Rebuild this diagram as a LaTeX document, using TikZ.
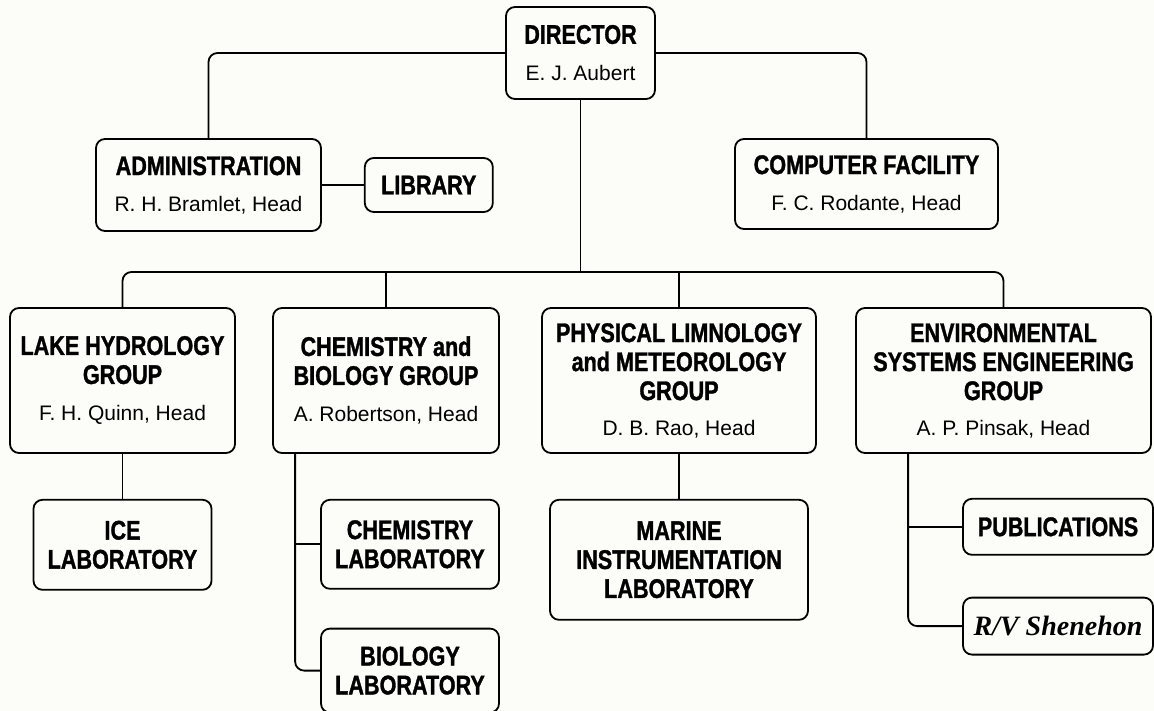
\documentclass[tikz,border=0pt]{standalone}
\usepackage{fontspec}
\setmainfont{Liberation Sans}
\newfontfamily\condfont[FakeStretch=0.8, BoldFeatures={FakeBold=1.2}]{Liberation Sans}
\newfontfamily\shipfont{Liberation Serif}
\usetikzlibrary{positioning}

\definecolor{paper}{RGB}{252,252,248}
\newcommand{\ttl}{\condfont\bfseries\fontsize{27}{29}\selectfont}
\newcommand{\hd}{\normalfont\fontsize{21}{24}\selectfont}

\begin{document}
\begin{tikzpicture}[
    x=1pt, y=-1pt,
    font=\ttl,
    box/.style={rectangle, draw=black, line width=1.8pt, rounded corners=9pt, align=center, inner sep=0pt},
    link/.style={line width=1.8pt, rounded corners=9pt}
]
\fill[paper] (0,0) rectangle (1154,711);
\useasboundingbox (0,0) rectangle (1154,711);

% Top: director and staff units
\node[box, minimum width=149pt, minimum height=92pt] (dir) at (580.5,53) {DIRECTOR\\[8pt]{\hd E.~J. Aubert}};
\node[box, minimum width=225pt, minimum height=92pt] (admin) at (208.5,185) {ADMINISTRATION\\[7pt]{\hd R.~H. Bramlet, Head}};
\node[box, minimum width=128pt, minimum height=54pt, right=42pt of admin] (lib) {LIBRARY};
\node[box, minimum width=263pt, minimum height=90pt] (comp) at (866.5,184) {COMPUTER FACILITY\\[7pt]{\hd F.~C. Rodante, Head}};

% Middle: research groups
\node[box, minimum width=225pt, minimum height=145pt] (lake) at (122.5,380.5) {LAKE HYDROLOGY\\GROUP\\[8pt]{\hd F.~H. Quinn, Head}};
\node[box, minimum width=226pt, minimum height=145pt] (chemgrp) at (386,380.5) {CHEMISTRY and\\BIOLOGY GROUP\\[8pt]{\hd A. Robertson, Head}};
\node[box, minimum width=274pt, minimum height=145pt] (phys) at (679,380.5) {PHYSICAL LIMNOLOGY\\and METEOROLOGY\\GROUP\\[6pt]{\hd D.~B. Rao, Head}};
\node[box, minimum width=295pt, minimum height=145pt] (env) at (1003.5,380.5) {ENVIRONMENTAL\\SYSTEMS ENGINEERING\\GROUP\\[6pt]{\hd A.~P. Pinsak, Head}};

% Bottom: laboratories and services
\node[box, minimum width=178pt, minimum height=90pt, below=45pt of lake] (ice) {ICE\\LABORATORY};
\node[box, minimum width=178pt, minimum height=89pt, below=45pt of chemgrp, xshift=24pt] (chemlab) {CHEMISTRY\\LABORATORY};
\node[box, minimum width=178pt, minimum height=84pt, below=38pt of chemlab] (biolab) {BIOLOGY\\LABORATORY};
\node[box, minimum width=258pt, minimum height=120pt, below=45pt of phys] (marine) {MARINE\\INSTRUMENTATION\\LABORATORY};
\node[box, minimum width=190pt, minimum height=56pt, below=44pt of env, xshift=54.5pt] (pubs) {PUBLICATIONS};
\node[box, minimum width=190pt, minimum height=57pt, below=41pt of pubs] (rv) {\shipfont\itshape\bfseries\fontsize{28}{30}\selectfont R/V Shenehon};

% Connections
\coordinate (bus) at (dir.south |- 0,272);
\coordinate (chemspine) at ([xshift=23pt]chemgrp.south west);
\coordinate (envspine) at ([xshift=53pt]env.south west);

\draw[link] (dir.west) -| (admin.north);
\draw[link] (dir.east) -| (comp.north);
\draw[link] (admin.east) -- (lib.west);

\draw[link] (dir.south) -- (bus);
\draw[link] (lake.north) |- (bus) -| (env.north);
\draw[link] (chemgrp.north) -- (chemgrp.north |- bus);
\draw[link] (phys.north) -- (phys.north |- bus);

\draw[link] (lake.south) -- (ice.north);
\draw[link] (phys.south) -- (marine.north);
\draw[link] (chemspine) |- (biolab.west);
\draw[link] (chemspine |- chemlab.west) -- (chemlab.west);
\draw[link] (envspine) |- (rv.west);
\draw[link] (envspine |- pubs.west) -- (pubs.west);

\end{tikzpicture}
\end{document}
